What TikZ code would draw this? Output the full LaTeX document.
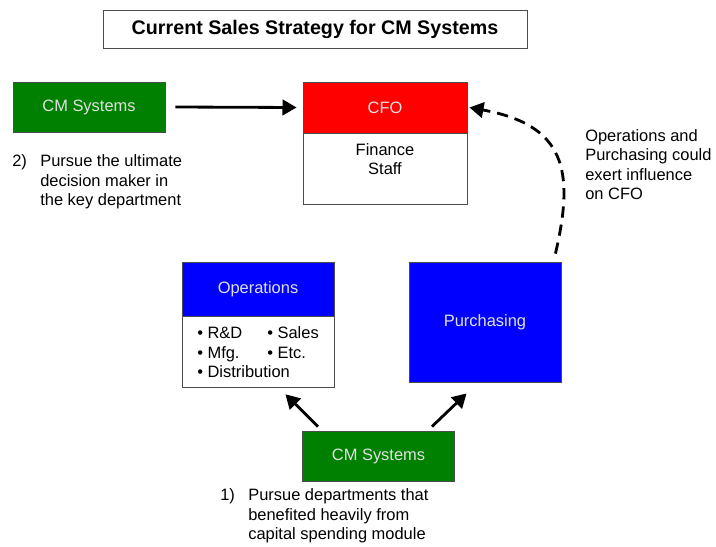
\documentclass[tikz,border=0pt]{standalone}
\usepackage{fontspec}
\setmainfont{Liberation Sans}
\usetikzlibrary{arrows.meta, positioning}

\definecolor{cmgreen}{RGB}{0,128,0}
\definecolor{deptblue}{RGB}{0,0,255}
\definecolor{cfored}{RGB}{255,0,0}
\definecolor{boxtext}{RGB}{225,225,225}

\begin{document}
\begin{tikzpicture}[x=0.025cm, y=-0.025cm,
    font=\fontsize{11.7}{13.8}\selectfont,
    box/.style={draw=black!70, line width=0.6pt, inner sep=0pt},
    greenbox/.style={box, fill=cmgreen, text=boxtext, minimum width=3.8cm, minimum height=1.25cm},
    bluebox/.style={box, fill=deptblue, text=boxtext, minimum width=3.8cm},
    whitebox/.style={box, fill=white},
    note/.style={align=left, inner sep=0pt, anchor=north west},
    bigarrow/.style={line width=2pt, -{Triangle[length=10pt, width=11pt]}}]

  \useasboundingbox (0,0) rectangle (716,546);

  % Title
  \node[box, minimum width=10.6cm, minimum height=0.95cm,
        font=\fontsize{14}{16}\selectfont\bfseries] (title) at (315,29)
        {Current Sales Strategy for CM Systems};

  % Top: straight to the CFO
  \node[greenbox] (cmtop) at (89,107) {CM Systems};
  \node[box, fill=cfored, text=boxtext, minimum width=4.1cm, minimum height=1.275cm] (cfo) at (385,107.5) {CFO};
  \node[whitebox, minimum width=4.1cm, minimum height=1.775cm, below=0pt of cfo] (finance) {};
  \node[align=center, inner sep=0pt] (financetext) at (385,159) {Finance\\Staff};
  \draw[bigarrow] ([xshift=0.25cm]cmtop.east) -- ([xshift=-0.15cm]cfo.west);

  \node[note] (step2) at (12,153) {\begin{tabular}{@{}p{0.7cm}@{}l@{}}
    2) & Pursue the ultimate\\
       & decision maker in\\
       & the key department
  \end{tabular}};

  % Middle: the departments
  \node[bluebox, minimum height=1.35cm] (ops) at (258,289) {Operations};
  \node[whitebox, minimum width=3.8cm, minimum height=1.775cm, align=left, below=0pt of ops] (opslist)
    {\makebox[1.75cm][l]{• R\&D}• Sales\\
     \makebox[1.75cm][l]{• Mfg.}• Etc.\\
     • Distribution};
  \node[bluebox, minimum height=3cm] (purch) at (485,322) {Purchasing};

  % Influence on the CFO
  \draw[line width=2pt, dash pattern=on 8pt off 5pt, -{Triangle[length=10pt, width=11pt]}]
    ([shift={(-6,-8)}]purch.north east) .. controls (575,170) and (565,125) .. ([xshift=0.05cm]cfo.east);
  \node[note] (influence) at (585,129) {Operations and\\Purchasing could\\exert influence\\on CFO};

  % Bottom: CM Systems starts with the departments
  \node[greenbox] (cmbot) at (378.5,456) {CM Systems};
  \draw[bigarrow] ([shift={(16,-4)}]cmbot.north west) -- ([shift={(-49,6)}]opslist.south east);
  \draw[bigarrow] ([shift={(-23,-4)}]cmbot.north east) -- ([shift={(58,11)}]purch.south west);

  \node[note] (step1) at (220,487) {\begin{tabular}{@{}p{0.7cm}@{}l@{}}
    1) & Pursue departments that\\
       & benefited heavily from\\
       & capital spending module
  \end{tabular}};
\end{tikzpicture}
\end{document}
